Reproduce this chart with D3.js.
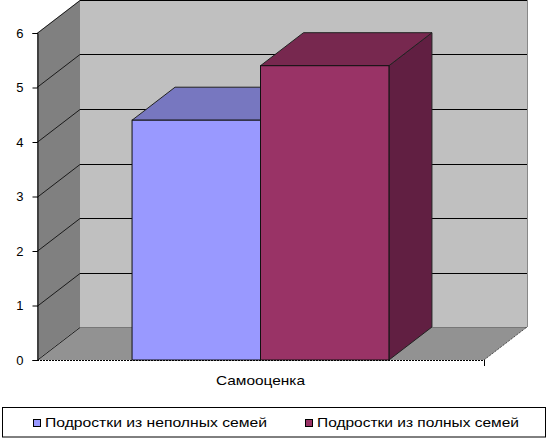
<!DOCTYPE html>
<html><head><meta charset="utf-8">
<script src="https://cdn.jsdelivr.net/npm/d3@7"></script>
<style>body{margin:0;background:#fff}svg{display:block;font-family:"Liberation Sans",Arial,sans-serif}</style>
</head><body>
<svg id="c" width="549" height="438"></svg>
<script>
const categories = ["Самооценка"];
const seriesNames = ["Подростки из неполных семей", "Подростки из полных семей"];
const seriesValues = [4.4, 5.4];
const yTicks = [0, 1, 2, 3, 4, 5, 6];

const front = {left: 37, right: 484, top: 33, bottom: 360};
const dx = 43, dy = -33;
const colors = [
  {front: "#9999FF", top: "#7777C0", side: "#5B5B99"},
  {front: "#993366", top: "#77284F", side: "#611F42"}
];

const svg = d3.select("#c");
const y = d3.scaleLinear().domain([0, 6]).range([front.bottom, front.top]);
const x = d3.scaleBand().domain(categories).range([front.left, front.right]).paddingInner(0).paddingOuter(0.37);
const xs = d3.scaleBand().domain(seriesNames).range([0, x.bandwidth()]).padding(0);

const poly = pts => pts.map(p => p.join(",")).join(" ");
// back wall
svg.append("rect").attr("x", front.left + dx).attr("y", front.top + dy)
  .attr("width", front.right - front.left).attr("height", front.bottom - front.top)
  .attr("fill", "#C0C0C0");
svg.append("line").attr("x1", front.right + dx + 0.5).attr("x2", front.right + dx + 0.5)
  .attr("y1", front.top + dy).attr("y2", front.bottom + dy).attr("stroke", "#888").attr("stroke-width", 1);
// left wall
svg.append("polygon").attr("points", poly([[front.left, front.top], [front.left + dx, front.top + dy], [front.left + dx, front.bottom + dy], [front.left, front.bottom]]))
  .attr("fill", "#808080");
// floor
svg.append("polygon").attr("points", poly([[front.left, front.bottom], [front.right, front.bottom], [front.right + dx, front.bottom + dy], [front.left + dx, front.bottom + dy]]))
  .attr("fill", "#929292");
svg.append("line").attr("x1", front.left + dx).attr("x2", front.right + dx)
  .attr("y1", front.bottom + dy + 0.5).attr("y2", front.bottom + dy + 0.5).attr("stroke", "#777");
// gridlines
yTicks.forEach(v => {
  const yy = Math.round(y(v)) + 0.5;
  if (v > 0) svg.append("line").attr("x1", front.left + dx).attr("x2", front.right + dx)
    .attr("y1", yy + dy).attr("y2", yy + dy).attr("stroke", "#000").attr("stroke-width", 1);
  svg.append("line").attr("x1", front.left).attr("y1", yy).attr("x2", front.left + dx).attr("y2", yy + dy)
    .attr("stroke", "#000").attr("stroke-width", 0.8);
});
svg.append("line").attr("x1", front.right).attr("y1", front.bottom).attr("x2", front.right + dx).attr("y2", front.bottom + dy)
  .attr("stroke", "#000").attr("stroke-width", 0.8).attr("stroke-dasharray", "1,1");

// bars
seriesNames.forEach((s, i) => {
  const x0 = x(categories[0]) + xs(s), w = xs.bandwidth();
  const yt = y(seriesValues[i]), yb = y(0);
  const c = colors[i];
  svg.append("polygon").attr("points", poly([[x0 + w, yt], [x0 + w + dx, yt + dy], [x0 + w + dx, yb + dy], [x0 + w, yb]]))
    .attr("fill", c.side).attr("stroke", "#222").attr("stroke-width", 1);
  svg.append("polygon").attr("points", poly([[x0, yt], [x0 + dx, yt + dy], [x0 + w + dx, yt + dy], [x0 + w, yt]]))
    .attr("fill", c.top).attr("stroke", "#222").attr("stroke-width", 1);
  svg.append("rect").attr("x", x0).attr("y", yt).attr("width", w).attr("height", yb - yt)
    .attr("fill", c.front).attr("stroke", "#111").attr("stroke-width", 1);
});

// axes
const yAxis = svg.append("g").attr("transform", `translate(${front.left + 0.5},0)`)
  .call(d3.axisLeft(y).tickValues(yTicks).tickFormat(d3.format("d")).tickSize(5).tickPadding(9));
yAxis.select(".domain").attr("stroke", "#000");
yAxis.selectAll("text").attr("font-size", 13).attr("fill", "#000").attr("font-family", "Liberation Sans, Arial, sans-serif");
svg.append("line").attr("x1", front.left).attr("x2", front.right).attr("y1", front.bottom + 0.5).attr("y2", front.bottom + 0.5)
  .attr("stroke", "#000").attr("stroke-dasharray", "2,1");
svg.append("line").attr("x1", front.right + 0.5).attr("x2", front.right + 0.5).attr("y1", front.bottom).attr("y2", front.bottom + 6).attr("stroke", "#000");
svg.append("text").attr("x", x(categories[0]) + x.bandwidth() / 2).attr("y", 385)
  .attr("text-anchor", "middle").attr("font-size", 13).attr("textLength", 89).attr("lengthAdjust", "spacingAndGlyphs")
  .text(categories[0]);

// legend
svg.append("rect").attr("x", 2.5).attr("y", 407.5).attr("width", 543).attr("height", 29.5)
  .attr("fill", "#fff").attr("stroke", "#000");
const legX = [33, 305], legLen = [222, 202];
seriesNames.forEach((s, i) => {
  svg.append("rect").attr("x", legX[i] + 0.5).attr("y", 419.5).attr("width", 7).attr("height", 7)
    .attr("fill", colors[i].front).attr("stroke", "#000");
  svg.append("text").attr("x", legX[i] + 12).attr("y", 427).attr("font-size", 12)
    .attr("textLength", legLen[i]).attr("lengthAdjust", "spacingAndGlyphs").text(s);
});
</script>
</body></html>
